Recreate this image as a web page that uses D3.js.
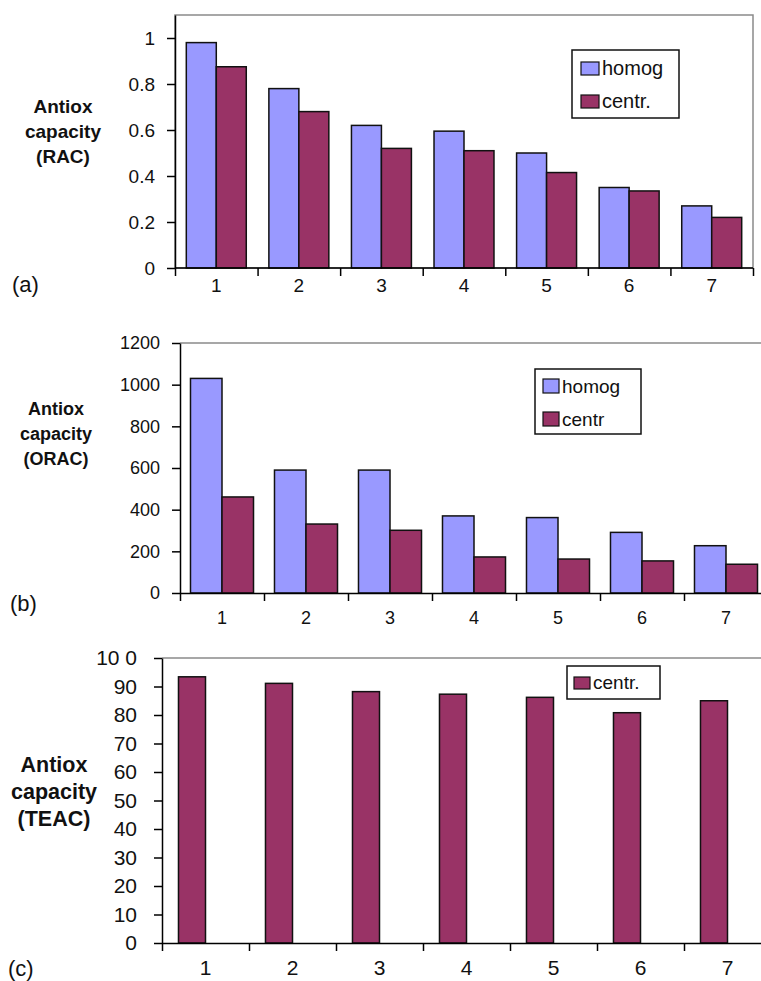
<!DOCTYPE html>
<html>
<head>
<meta charset="utf-8">
<script src="https://cdn.jsdelivr.net/npm/d3@7"></script>
<style>
  body { margin: 0; background: #fff; }
  svg { font-family: "Liberation Sans", Arial, sans-serif; display: block; }
</style>
</head>
<body>
<svg id="chart" width="761" height="981"></svg>
<script>
// data
const categories = ['1', '2', '3', '4', '5', '6', '7'];
const seriesNames = ['homog', 'centr.'];

const racHomog = [0.98, 0.78, 0.62, 0.595, 0.50, 0.35, 0.27];
const racCentr = [0.875, 0.68, 0.52, 0.51, 0.415, 0.335, 0.22];
const racTicks = [0, 0.2, 0.4, 0.6, 0.8, 1];

const oracHomog = [1030, 590, 590, 370, 362, 291, 227];
const oracCentr = [461, 331, 301, 173, 163, 154, 138];
const oracTicks = [0, 200, 400, 600, 800, 1000, 1200];

const teacCentr = [93.4, 91.1, 88.2, 87.3, 86.2, 80.8, 85.0];
const teacTicks = [0, 10, 20, 30, 40, 50, 60, 70, 80, 90, 100];

const colors = { homog: '#9999ff', centr: '#993366' };

const svg = d3.select('#chart');
const width = +svg.attr('width');

const drawPanel = cfg => {
  const g = svg.append('g');

  // categories, one band each
  const x = d3.scaleBand()
      .domain(categories)
      .range([cfg.left, cfg.left + cfg.band * categories.length]);

  // bars inside a band
  const xSub = d3.scaleBand()
      .domain(cfg.slots)
      .range([0, x.bandwidth()])
      .paddingOuter(cfg.outer);

  const y = d3.scaleLinear()
      .domain([0, cfg.yMax])
      .range([cfg.bottom, cfg.top]);

  // grey frame lines
  if (cfg.box) {
    g.append('rect')
        .attr('x', cfg.left)
        .attr('y', cfg.top)
        .attr('width', cfg.right - cfg.left)
        .attr('height', cfg.bottom - cfg.top)
        .attr('fill', 'none')
        .attr('stroke', '#8a8a8a')
        .attr('stroke-width', 1.5);
  } else {
    g.append('line')
        .attr('x1', cfg.left).attr('x2', width)
        .attr('y1', cfg.top).attr('y2', cfg.top)
        .attr('stroke', '#8a8a8a')
        .attr('stroke-width', 1.5);
  }

  // bars
  cfg.series.forEach(s => {
    g.selectAll(null)
        .data(s.values.map((v, i) => ({ cat: categories[i], v })))
        .enter()
        .append('rect')
        .attr('x', d => x(d.cat) + xSub(s.name))
        .attr('width', xSub.bandwidth())
        .attr('y', d => y(d.v))
        .attr('height', d => y(0) - y(d.v))
        .attr('fill', s.color)
        .attr('stroke', '#111')
        .attr('stroke-width', 1.5);
  });

  // y axis
  const yAxis = g.append('g')
      .attr('transform', 'translate(' + cfg.left + ',0)')
      .call(d3.axisLeft(y)
          .tickValues(cfg.ticks)
          .tickFormat(cfg.tickFormat)
          .tickSize(8)
          .tickSizeOuter(0)
          .tickPadding(cfg.yPad));
  yAxis.selectAll('text')
      .attr('fill', '#111')
      .style('font-size', cfg.yFont + 'px');

  // x axis: boundary ticks
  const xIdx = d3.scaleLinear()
      .domain([0, categories.length])
      .range([cfg.left, cfg.left + cfg.band * categories.length]);
  const xTicks = g.append('g')
      .attr('transform', 'translate(0,' + cfg.bottom + ')')
      .call(d3.axisBottom(xIdx)
          .tickValues(d3.range(categories.length + 1))
          .tickFormat('')
          .tickSize(8)
          .tickSizeOuter(0));
  if (cfg.box) {
    // keep the baseline inside the frame
    xTicks.select('.domain').remove();
    g.append('line')
        .attr('x1', cfg.left).attr('x2', cfg.right)
        .attr('y1', cfg.bottom).attr('y2', cfg.bottom)
        .attr('stroke', '#000')
        .attr('stroke-width', 1.5);
  }

  // x axis: category labels
  const xAxis = g.append('g')
      .attr('transform', 'translate(0,' + cfg.bottom + ')')
      .call(d3.axisBottom(x).tickSize(0).tickPadding(cfg.xPad));
  xAxis.select('.domain').remove();
  xAxis.selectAll('text')
      .attr('fill', '#111')
      .style('font-size', cfg.xFont + 'px');

  g.selectAll('.domain, .tick line')
      .attr('stroke', '#000')
      .attr('stroke-width', 1.5);

  // y axis title
  const title = g.append('text')
      .attr('text-anchor', 'middle')
      .style('font-weight', 'bold')
      .style('font-size', cfg.titleFont + 'px')
      .attr('fill', '#111');
  cfg.title.forEach((t, i) => {
    title.append('tspan')
        .attr('x', cfg.titleX)
        .attr('y', cfg.titleY + i * cfg.titleGap)
        .text(t);
  });

  // panel letter
  g.append('text')
      .attr('x', cfg.letterX)
      .attr('y', cfg.letterY)
      .style('font-size', '22px')
      .attr('fill', '#111')
      .text(cfg.letter);

  // legend
  const lg = g.append('g')
      .attr('transform', 'translate(' + cfg.legend.x + ',' + cfg.legend.y + ')');
  lg.append('rect')
      .attr('width', cfg.legend.w)
      .attr('height', cfg.legend.h)
      .attr('fill', '#fff')
      .attr('stroke', '#111')
      .attr('stroke-width', 1.5);
  cfg.legend.items.forEach((it, i) => {
    const row = lg.append('g')
        .attr('transform', 'translate(' + cfg.legend.padX + ',' + (cfg.legend.padY + i * cfg.legend.gap) + ')');
    row.append('rect')
        .attr('width', cfg.legend.sw)
        .attr('height', cfg.legend.sh)
        .attr('fill', it.color)
        .attr('stroke', '#111')
        .attr('stroke-width', 1.2);
    row.append('text')
        .attr('x', cfg.legend.sw + 3)
        .attr('y', cfg.legend.sh)
        .style('font-size', cfg.legend.font + 'px')
        .attr('fill', '#111')
        .text(it.label);
  });
};

// (a) RAC
drawPanel({
  left: 175, right: 753, top: 15, bottom: 268, band: 578 / 7,
  yMax: 1.1, ticks: racTicks, tickFormat: d => String(d),
  slots: seriesNames, outer: 0.377,
  series: [
    { name: 'homog', values: racHomog, color: colors.homog },
    { name: 'centr.', values: racCentr, color: colors.centr }
  ],
  box: true,
  yPad: 12, yFont: 19, xPad: 11, xFont: 19,
  title: ['Antiox', 'capacity', '(RAC)'], titleX: 63, titleY: 113, titleGap: 25, titleFont: 19,
  letter: '(a)', letterX: 12, letterY: 292,
  legend: {
    x: 572, y: 50, w: 107, h: 68, padX: 9, padY: 12, gap: 33, sw: 18, sh: 13, font: 20,
    items: [{ label: 'homog', color: colors.homog }, { label: 'centr.', color: colors.centr }]
  }
});

// (b) ORAC
drawPanel({
  left: 180, right: 761, top: 343, bottom: 593, band: 84,
  yMax: 1200, ticks: oracTicks, tickFormat: d => String(d),
  slots: seriesNames, outer: 0.333,
  series: [
    { name: 'homog', values: oracHomog, color: colors.homog },
    { name: 'centr.', values: oracCentr, color: colors.centr }
  ],
  box: false,
  yPad: 12, yFont: 18, xPad: 18, xFont: 18,
  title: ['Antiox', 'capacity', '(ORAC)'], titleX: 56, titleY: 415, titleGap: 25, titleFont: 18,
  letter: '(b)', letterX: 10, letterY: 611,
  legend: {
    x: 535, y: 369, w: 106, h: 65, padX: 8, padY: 10, gap: 33, sw: 16, sh: 14, font: 19,
    items: [{ label: 'homog', color: colors.homog }, { label: 'centr', color: colors.centr }]
  }
});

// (c) TEAC, only the centr. series (second slot left empty)
drawPanel({
  left: 162, right: 761, top: 658, bottom: 943, band: 87,
  yMax: 100, ticks: teacTicks, tickFormat: d => d === 100 ? '10 0' : String(d),
  slots: ['centr.', 'none'], outer: 0.61,
  series: [
    { name: 'centr.', values: teacCentr, color: colors.centr }
  ],
  box: false,
  yPad: 17, yFont: 21, xPad: 17, xFont: 21,
  title: ['Antiox', 'capacity', '(TEAC)'], titleX: 54, titleY: 772, titleGap: 27, titleFont: 21.5,
  letter: '(c)', letterX: 8, letterY: 976,
  legend: {
    x: 567, y: 666, w: 93, h: 33, padX: 7, padY: 11, gap: 0, sw: 16, sh: 12, font: 19,
    items: [{ label: 'centr.', color: colors.centr }]
  }
});
</script>
</body>
</html>
